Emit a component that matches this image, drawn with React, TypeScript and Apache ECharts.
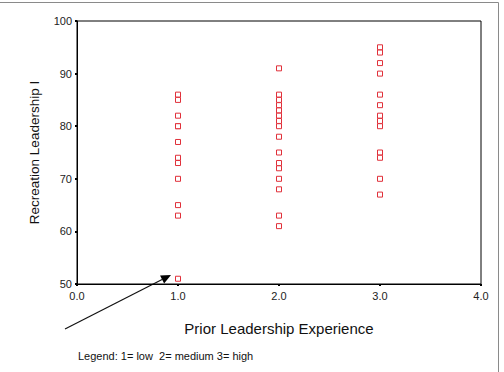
import React, { useEffect, useRef } from "react";
import * as echarts from "echarts";

const lowScores = [86, 85, 82, 80, 80, 77, 74, 73, 70, 65, 63, 51];
const mediumScores = [91, 86, 85, 84, 83, 82, 81, 80, 78, 75, 73, 72, 70, 68, 63, 61];
const highScores = [95, 94, 92, 90, 86, 84, 82, 81, 80, 75, 74, 70, 67];
const groupLevels = [1, 2, 3];
const xTicks = [0, 1, 2, 3, 4];
const yTicks = [50, 60, 70, 80, 90, 100];
const xTitle = "Prior Leadership Experience";
const yTitle = "Recreation Leadership I";
const legendNote = "Legend: 1= low  2= medium 3= high";

export default function App() {
  const ref = useRef<HTMLDivElement>(null);
  useEffect(() => {
    if (!ref.current) return;
    const chart = echarts.init(ref.current, null, { renderer: "svg" });
    const groups = [lowScores, mediumScores, highScores];
    const data: number[][] = [];
    groups.forEach((g, i) => g.forEach((v) => data.push([groupLevels[i], v])));

    const tip = [171, 275];
    const start = [65, 329];
    const dx = tip[0] - start[0];
    const dy = tip[1] - start[1];
    const len = Math.sqrt(dx * dx + dy * dy);
    const ux = dx / len, uy = dy / len;
    const hl = 10, hw = 4.5;
    const bx = tip[0] - hl * ux, by = tip[1] - hl * uy;
    const px = -uy, py = ux;

    const font = "'Liberation Sans', Arial, sans-serif";
    chart.setOption({
      animation: false,
      backgroundColor: "#fff",
      grid: {
        left: 77,
        right: 23,
        top: 21,
        bottom: 88,
        show: true,
        borderColor: "#000",
        borderWidth: 1,
        backgroundColor: "transparent",
      },
      xAxis: {
        type: "value",
        min: xTicks[0],
        max: xTicks[xTicks.length - 1],
        interval: 1,
        name: xTitle,
        nameLocation: "middle",
        nameGap: 37,
        nameTextStyle: { fontFamily: font, fontSize: 15, color: "#111" },
        axisLine: { show: true, lineStyle: { color: "#000", width: 1 } },
        axisTick: { show: true, length: 2, lineStyle: { color: "#000", width: 2 } },
        axisLabel: {
          fontFamily: font,
          fontSize: 11,
          color: "#222",
          margin: 6,
          formatter: (v: number) => v.toFixed(1),
        },
        splitLine: { show: false },
      },
      yAxis: {
        type: "value",
        min: yTicks[0],
        max: yTicks[yTicks.length - 1],
        interval: 10,
        name: yTitle,
        nameLocation: "middle",
        nameGap: 36,
        nameTextStyle: { fontFamily: font, fontSize: 13.5, color: "#111" },
        axisLine: { show: true, lineStyle: { color: "#000", width: 1 } },
        axisTick: { show: true, length: 2, lineStyle: { color: "#000", width: 2 } },
        axisLabel: { fontFamily: font, fontSize: 11, color: "#222", margin: 5 },
        splitLine: { show: false },
      },
      series: [
        {
          type: "scatter",
          data,
          symbol: "rect",
          symbolSize: 5,
          itemStyle: { color: "#fff", borderColor: "#e0303a", borderWidth: 1, opacity: 1 },
        },
      ],
      graphic: [
        {
          type: "polyline",
          shape: { points: [[0, 2.5], [498.5, 2.5], [498.5, 372]] },
          style: { fill: "none", stroke: "#8a8a8a", lineWidth: 1 },
          silent: true,
        },
        {
          type: "line",
          shape: { x1: start[0], y1: start[1], x2: bx, y2: by },
          style: { stroke: "#111", lineWidth: 1.2 },
        },
        {
          type: "polygon",
          shape: {
            points: [
              [tip[0], tip[1]],
              [bx + hw * px, by + hw * py],
              [bx - hw * px, by - hw * py],
            ],
          },
          style: { fill: "#000" },
        },
        {
          type: "text",
          left: 78,
          top: 350,
          style: { text: legendNote, font: `11px ${font}`, fill: "#111" },
        },
      ],
    });
    return () => chart.dispose();
  }, []);
  return (
    <div
      ref={ref}
      style={{ position: "fixed", left: 0, top: 0, width: 504, height: 372 }}
    />
  );
}
